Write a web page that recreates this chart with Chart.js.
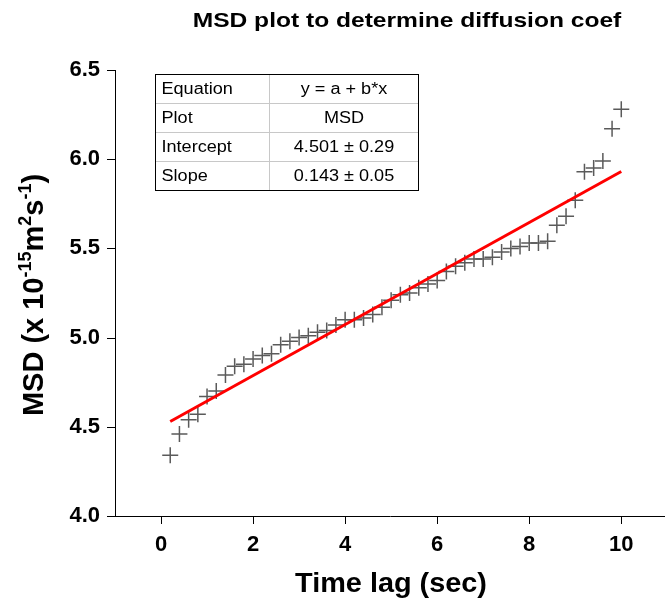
<!DOCTYPE html>
<html>
<head>
<meta charset="utf-8">
<script src="https://cdn.jsdelivr.net/npm/chart.js@4.4.1/dist/chart.umd.min.js"></script>
<style>
  body { margin: 0; background: #fff; }
  canvas { display: block; }
</style>
</head>
<body>
<canvas id="msdChart" width="665" height="602"></canvas>
<script>
// time lag (sec) and MSD values
const timeLag = [0.2, 0.4, 0.6, 0.8, 1.0, 1.2, 1.4, 1.6, 1.8, 2.0,
                 2.2, 2.4, 2.6, 2.8, 3.0, 3.2, 3.4, 3.6, 3.8, 4.0,
                 4.2, 4.4, 4.6, 4.8, 5.0, 5.2, 5.4, 5.6, 5.8, 6.0,
                 6.2, 6.4, 6.6, 6.8, 7.0, 7.2, 7.4, 7.6, 7.8, 8.0,
                 8.2, 8.4, 8.6, 8.8, 9.0, 9.2, 9.4, 9.6, 9.8, 10.0];
const msd = [4.34, 4.46, 4.54, 4.57, 4.67, 4.70, 4.79, 4.84, 4.85, 4.88,
             4.90, 4.91, 4.96, 4.98, 5.00, 5.01, 5.03, 5.04, 5.07, 5.10,
             5.10, 5.11, 5.13, 5.17, 5.21, 5.24, 5.25, 5.28, 5.30, 5.32,
             5.37, 5.40, 5.42, 5.44, 5.44, 5.45, 5.48, 5.50, 5.51, 5.53,
             5.53, 5.54, 5.63, 5.68, 5.77, 5.93, 5.95, 5.99, 6.17, 6.28];

// linear fit end points
const fitX = [0.2, 10.0];
const fitY = [4.530, 5.931];

// fit result table
const tableRows = [
    ['Equation', 'y = a + b*x'],
    ['Plot', 'MSD'],
    ['Intercept', '4.501 \u00b1 0.29'],
    ['Slope', '0.143 \u00b1 0.05']
];

const FONT = '"Liberation Sans", Arial, sans-serif';

function stretchText(ctx, text, x, y, font, align, sx) {
    ctx.save();
    ctx.font = font;
    ctx.textAlign = align;
    ctx.textBaseline = 'middle';
    ctx.translate(x, y);
    ctx.scale(sx, 1);
    ctx.fillText(text, 0, 0);
    ctx.restore();
}

const overlay = {
    id: 'overlay',
    afterDraw(chart) {
        const ctx = chart.ctx;
        const xs = chart.scales.x, ys = chart.scales.y;
        ctx.save();
        ctx.strokeStyle = '#000';
        ctx.lineWidth = 1;

        // tick marks, long on labelled values, short in between
        xs.ticks.forEach(t => {
            if (!Number.isInteger(t.value)) return;
            const px = Math.round(xs.getPixelForValue(t.value)) + 0.5;
            const len = t.value % 2 === 0 ? 8 : 5;
            ctx.beginPath();
            ctx.moveTo(px, xs.top);
            ctx.lineTo(px, xs.top + len);
            ctx.stroke();
        });
        ys.ticks.forEach(t => {
            const py = Math.round(ys.getPixelForValue(t.value)) + 0.5;
            const major = Math.abs(t.value * 2 - Math.round(t.value * 2)) < 1e-6;
            const len = major ? 8 : 5;
            ctx.beginPath();
            ctx.moveTo(ys.right, py);
            ctx.lineTo(ys.right - len, py);
            ctx.stroke();
        });

        ctx.fillStyle = '#000';

        // title
        stretchText(ctx, 'MSD plot to determine diffusion coef', 407, 21, 'bold 21px ' + FONT, 'center', 1.17);

        // x axis title
        stretchText(ctx, 'Time lag (sec)', 391, 584, 'bold 28px ' + FONT, 'center', 1.03);

        // y axis title with superscripts
        const parts = [
            ['MSD (x 10', false], ['-15', true], ['m', false], ['2', true],
            ['s', false], ['-1', true], [')', false]
        ];
        const mainFont = 'bold 29px ' + FONT, supFont = 'bold 18px ' + FONT;
        let total = 0;
        parts.forEach(p => { ctx.font = p[1] ? supFont : mainFont; total += ctx.measureText(p[0]).width; });
        ctx.save();
        ctx.translate(43, 295);
        ctx.rotate(-Math.PI / 2);
        ctx.textBaseline = 'alphabetic';
        ctx.textAlign = 'left';
        let cx = -total / 2;
        parts.forEach(p => {
            ctx.font = p[1] ? supFont : mainFont;
            ctx.fillText(p[0], cx, p[1] ? -12 : 0);
            cx += ctx.measureText(p[0]).width;
        });
        ctx.restore();

        // fit table
        const left = 155.5, mid = 269.5, right = 418.5, top = 74.5, rowH = 29;
        const bottom = top + rowH * tableRows.length;
        ctx.strokeStyle = '#c8c8c8';
        ctx.beginPath();
        for (let i = 1; i < tableRows.length; i++) {
            ctx.moveTo(left, top + rowH * i);
            ctx.lineTo(right, top + rowH * i);
        }
        ctx.moveTo(mid, top);
        ctx.lineTo(mid, bottom);
        ctx.stroke();
        ctx.strokeStyle = '#000';
        ctx.strokeRect(left, top, right - left, bottom - top);
        tableRows.forEach((r, i) => {
            const y = top + rowH * i + rowH / 2 + 1;
            stretchText(ctx, r[0], left + 6, y, '16px ' + FONT, 'left', 1.13);
            stretchText(ctx, r[1], (mid + right) / 2, y, '16px ' + FONT, 'center', 1.13);
        });
        ctx.restore();
    }
};

document.addEventListener('DOMContentLoaded', function () {
    const ctx = document.getElementById('msdChart').getContext('2d');
    const points = timeLag.map((t, i) => ({ x: t, y: msd[i] }));
    const fit = fitX.map((t, i) => ({ x: t, y: fitY[i] }));

    new Chart(ctx, {
        type: 'scatter',
        data: {
            datasets: [{
                type: 'line',
                label: 'Linear fit',
                data: fit,
                borderColor: '#ff0000',
                borderWidth: 3,
                pointRadius: 0,
                showLine: true,
                order: 0
            }, {
                label: 'MSD',
                data: points,
                pointStyle: 'cross',
                pointRadius: 8,
                pointHoverRadius: 8,
                borderColor: '#5a5a5a',
                borderWidth: 1.5,
                order: 1
            }]
        },
        options: {
            responsive: false,
            animation: false,
            devicePixelRatio: 1,
            layout: { autoPadding: false, padding: { top: 70, left: 0, right: 0, bottom: 0 } },
            plugins: {
                legend: { display: false },
                tooltip: { enabled: false }
            },
            scales: {
                x: {
                    type: 'linear',
                    min: -1,
                    max: 10.95,
                    grid: { display: false, drawTicks: false },
                    border: { display: true, color: '#000', width: 1 },
                    ticks: {
                        stepSize: 1,
                        includeBounds: false,
                        padding: 16,
                        color: '#000',
                        font: { family: FONT, size: 22, weight: 'bold' },
                        maxRotation: 0,
                        autoSkip: false,
                        callback: v => (Number.isInteger(v) && v >= 0 && v % 2 === 0) ? String(v) : null
                    },
                    afterFit: s => { s.height = 86; s.paddingLeft = 0; s.paddingRight = 0; }
                },
                y: {
                    min: 4,
                    max: 6.5,
                    grid: { display: false, drawTicks: false },
                    border: { display: true, color: '#000', width: 1 },
                    ticks: {
                        stepSize: 0.25,
                        padding: 15,
                        color: '#000',
                        font: { family: FONT, size: 22, weight: 'bold' },
                        autoSkip: false,
                        callback: v => Math.abs(v * 2 - Math.round(v * 2)) < 1e-6 ? v.toFixed(1) : null
                    },
                    afterFit: s => { s.width = 115; }
                }
            }
        },
        plugins: [overlay]
    });
});
</script>
</body>
</html>
